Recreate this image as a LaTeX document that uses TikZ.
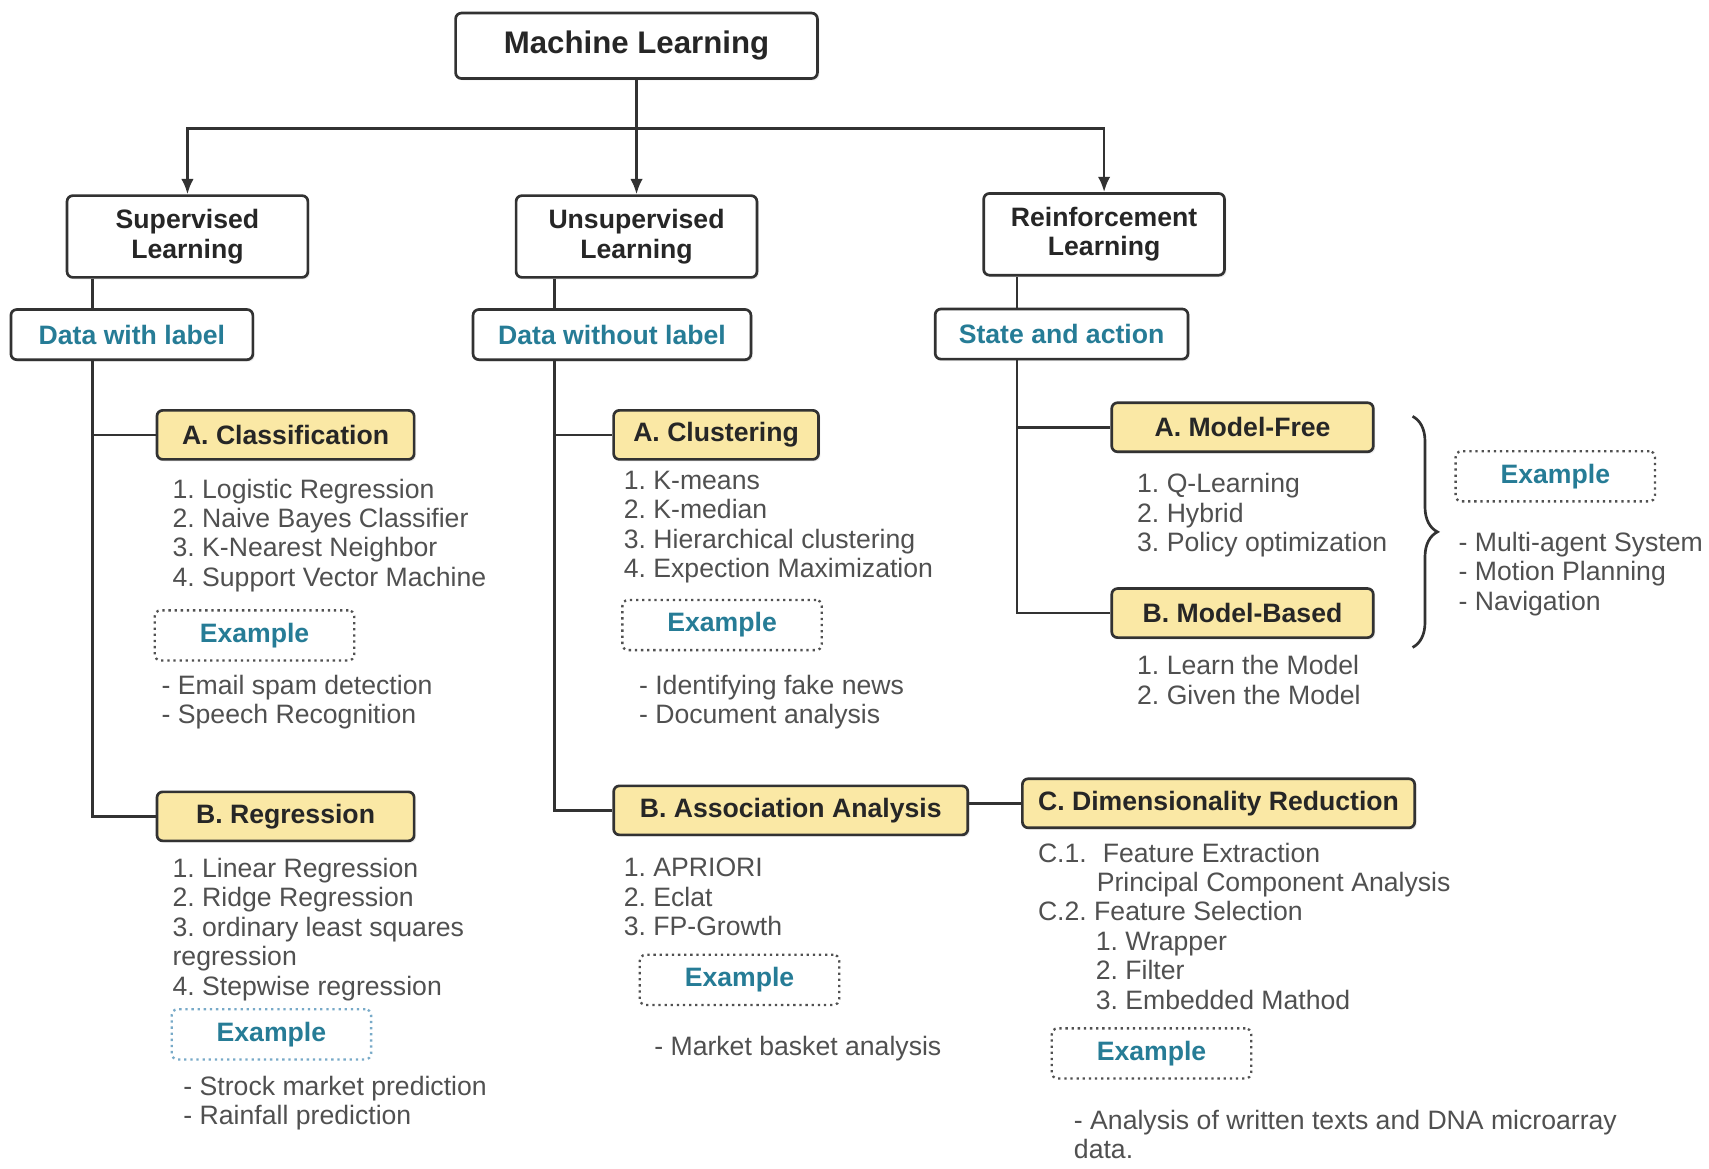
\documentclass[tikz,border=0pt]{standalone}
\usepackage{fontspec}
\setmainfont{Liberation Sans}
\usetikzlibrary{positioning,arrows.meta,decorations.pathreplacing,shadows}
\frenchspacing

\definecolor{boxyellow}{RGB}{250,232,165}
\definecolor{labelteal}{RGB}{38,124,150}
\definecolor{listgray}{RGB}{80,80,80}
\definecolor{edgegray}{RGB}{50,50,50}
\definecolor{exblue}{RGB}{120,170,200}

\tikzset{
  box/.style={draw=edgegray, line width=1.4pt, rounded corners=3pt, align=center,
    text=black!85, font=\bfseries\fontsize{13.9}{15.35}\selectfont,
    drop shadow={opacity=0.15, shadow xshift=1pt, shadow yshift=-1pt}},
  topbox/.style={box, fill=white, font=\bfseries\fontsize{16.3}{18}\selectfont},
  learnbox/.style={box, fill=white, minimum width=4.42cm, minimum height=1.5cm},
  databox/.style={box, fill=white, text=labelteal, minimum height=0.92cm},
  algobox/.style={box, fill=boxyellow, minimum height=0.9cm},
  examplebox/.style={draw=edgegray!85, line width=1.2pt, dotted, rounded corners=3pt,
    fill=white, text=labelteal, font=\bfseries\fontsize{13.9}{15.35}\selectfont,
    minimum width=3.66cm, minimum height=0.92cm},
  itemlist/.style={anchor=north west, align=left, inner sep=0pt, text=listgray,
    font=\fontsize{13.9}{15.35}\selectfont},
  link/.style={draw=edgegray, line width=1.4pt},
  >={Latex[length=8pt,width=6.5pt]}
}

\begin{document}
\begin{tikzpicture}[x=0.02cm, y=-0.02cm]
\fill[white] (0,0) rectangle (1568,1072);
\useasboundingbox (0,0) rectangle (1568,1072);

%Nodes
\node[topbox, minimum width=6.64cm, minimum height=1.2cm] (ML) at (584,42) {Machine Learning};
\node[learnbox]     (SL)    at (172,217)    {Supervised\\Learning};
\node[learnbox]     (UL)    at (584,217)    {Unsupervised\\Learning};
\node[learnbox]     (RL)    at (1013,215)   {Reinforcement\\Learning};

\node[databox, minimum width=4.44cm]    (DL)    at (121,307)    {Data with label};
\node[databox, minimum width=5.1cm]     (DU)    at (561.5,307)  {Data without label};
\node[databox, minimum width=4.64cm]    (SA)    at (974,306.5)  {State and action};

%Supervised
\node[algobox, minimum width=4.72cm]    (CLS)   at (262,399)    {A. Classification};
\node[itemlist]     (CLSlist)   at (158,439)    {1. Logistic Regression\\2. Naive Bayes Classifier\\3. K-Nearest Neighbor\\4. Support Vector Machine};
\node[examplebox]   (CLSex)     at (233.5,583)  {Example};
\node[itemlist]     (CLSuse)    at (148,619)    {- Email spam detection\\- Speech Recognition};

\node[algobox, minimum width=4.72cm]    (REG)   at (262,749)    {B. Regression};
\node[itemlist]     (REGlist)   at (158,787)    {1. Linear Regression\\2. Ridge Regression\\3. ordinary least squares\\regression\\4. Stepwise regression};
\node[examplebox, draw=exblue]  (REGex)     at (249,949)    {Example};
\node[itemlist]     (REGuse)    at (168,987)    {- Strock market prediction\\- Rainfall prediction};

%Unsupervised
\node[algobox, minimum width=3.76cm]    (CLU)   at (657,399)    {A. Clustering};
\node[itemlist]     (CLUlist)   at (572,432)    {1. K-means\\2. K-median\\3. Hierarchical clustering\\4. Expection Maximization};
\node[examplebox]   (CLUex)     at (662.5,573.5) {Example};
\node[itemlist]     (CLUuse)    at (586,619)    {- Identifying fake news\\- Document analysis};

\node[algobox, minimum width=6.5cm]     (ASC)   at (725.5,743.5) {B. Association Analysis};
\node[itemlist]     (ASClist)   at (572,787)    {1. APRIORI\\2. Eclat\\3. FP-Growth};
\node[examplebox]   (ASCex)     at (678.5,899)  {Example};
\node[itemlist]     (ASCuse)    at (600,950)    {- Market basket analysis};

\node[algobox, minimum width=7.2cm]     (DIM)   at (1118,737)   {C. Dimensionality Reduction};
\node[itemlist]     (DIMlist)   at (952,773)    {C.1.\hspace{0.6em}Feature Extraction\\\hspace*{1.08cm}Principal Component Analysis\\C.2. Feature Selection\\\hspace*{1.06cm}1. Wrapper\\\hspace*{1.06cm}2. Filter\\\hspace*{1.06cm}3. Embedded Mathod};
\node[examplebox]   (DIMex)     at (1056.5,966.5) {Example};
\node[itemlist]     (DIMuse)    at (985,1018)   {- Analysis of written texts and DNA microarray\\data.};

%Reinforcement
\node[algobox, minimum width=4.8cm]     (MF)    at (1140,392)   {A. Model-Free};
\node[itemlist]     (MFlist)    at (1043,434)   {1. Q-Learning\\2. Hybrid\\3. Policy optimization};
\node[algobox, minimum width=4.8cm]     (MB)    at (1140,562.5) {B. Model-Based};
\node[itemlist]     (MBlist)    at (1043,601)   {1. Learn the Model\\2. Given the Model};
\node[examplebox]   (RLex)      at (1427,437)   {Example};
\node[itemlist]     (RLuse)     at (1338,488)   {- Multi-agent System\\- Motion Planning\\- Navigation};

\coordinate (fork)      at (584,118);
\coordinate (svTrunk)   at (85,0);
\coordinate (unTrunk)   at (509,0);
\coordinate (reTrunk)   at (933,0);
\coordinate (braceTop)  at (1296,382);
\coordinate (braceBot)  at (1296,594);

%Lines
\draw[link]     (ML.south) -- (fork);
\draw[link,->]  (fork) -| (SL.north);
\draw[link,->]  (fork) -- (UL.north);
\draw[link,->]  (fork) -| (RL.north);

\draw[link]     (SL.south -| svTrunk) -- (DL.north -| svTrunk);
\draw[link]     (DL.south -| svTrunk) |- (REG.west);
\draw[link]     (svTrunk |- CLS.west) -- (CLS.west);

\draw[link]     (UL.south -| unTrunk) -- (DU.north -| unTrunk);
\draw[link]     (DU.south -| unTrunk) |- (ASC.west);
\draw[link]     (unTrunk |- CLU.west) -- (CLU.west);
\draw[link]     (DIM.west) -- (DIM.west -| ASC.east);

\draw[link]     (RL.south -| reTrunk) -- (SA.north -| reTrunk);
\draw[link]     (SA.south -| reTrunk) |- (MB.west);
\draw[link]     (reTrunk |- MF.west) -- (MF.west);

\draw[link, decorate, decoration={brace, amplitude=13pt}] (braceTop) -- (braceBot);
\end{tikzpicture}
\end{document}
